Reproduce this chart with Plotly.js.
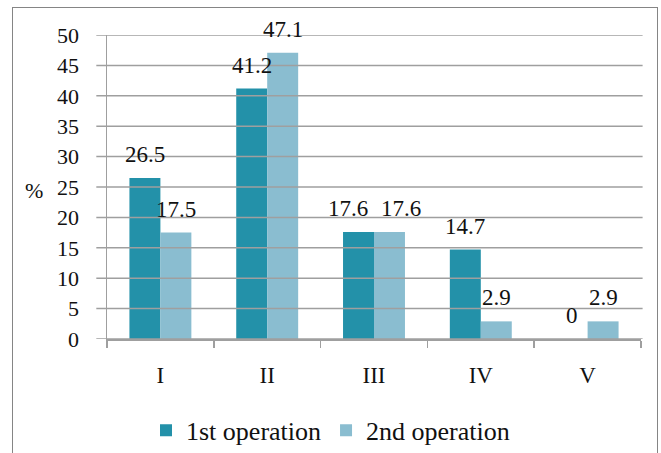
<!DOCTYPE html>
<html>
<head>
<meta charset="utf-8">
<script src="https://cdn.plot.ly/plotly-3.0.1.min.js"></script>
<style>
html,body{margin:0;padding:0;background:#fff;}
#wrap{position:relative;width:661px;height:453px;overflow:hidden;}
#chart{width:661px;height:453px;}
#frame{position:absolute;left:12px;top:7px;width:646px;height:470px;border:1.5px solid #858585;pointer-events:none;box-sizing:border-box;}
</style>
</head>
<body>
<div id="wrap"><div id="chart"></div><div id="frame"></div></div>
<script>
var categories = ["I", "II", "III", "IV", "V"];
var firstOperation = [26.5, 41.2, 17.6, 14.7, 0];
var secondOperation = [17.5, 47.1, 17.6, 2.9, 2.9];
var seriesNames = ["1st operation", "2nd operation"];
var yTicks = [0, 5, 10, 15, 20, 25, 30, 35, 40, 45, 50];

var FONT = "'Liberation Serif'";
var darkColor = "#2391a9";
var lightColor = "#8abdd0";
var BAR_HALF = 15.5;   // half of a bar's pixel width, to centre labels over each bar

var traces = [
  {type:"bar", name:seriesNames[0], x:categories, y:firstOperation,
   marker:{color:darkColor}, hoverinfo:"skip"},
  {type:"bar", name:seriesNames[1], x:categories, y:secondOperation,
   marker:{color:lightColor}, hoverinfo:"skip"}
];

function labelAnnotations(values, side){
  return values.map(function(v, i){
    var shift = side * BAR_HALF;
    if (categories[i] === "III") shift = side * 26.5; // the equal pair is spread apart, as in the reference
    return {x:categories[i], y:v, xref:"x", yref:"y", text:String(v), showarrow:false,
            xanchor:"center", yanchor:"bottom", xshift:shift, yshift:9,
            font:{family:FONT, size:23, color:"#111"}};
  });
}

var gridShapes = yTicks.map(function(v){
  return {type:"line", xref:"paper", yref:"y", x0:-0.02, x1:1.003, y0:v, y1:v,
          line:{color:"#9f9f9f", width:1.5}, layer:"above"};
});

var layout = {
  width:661, height:453,
  margin:{l:107, r:20, t:35, b:114, pad:0},
  paper_bgcolor:"#fff", plot_bgcolor:"#fff",
  barmode:"group", bargap:0.42, bargroupgap:0,
  font:{family:FONT, size:22, color:"#111"},
  showlegend:true,
  legend:{orientation:"h", xref:"container", yref:"container", x:0.5, xanchor:"center",
          y:0.05, yanchor:"middle", font:{family:FONT, size:26, color:"#111"},
          itemwidth:30, tracegroupgap:0},
  xaxis:{type:"category", showgrid:false, showline:true, linecolor:"#9f9f9f", linewidth:1.5,
         ticks:"outside", tickson:"boundaries", ticklen:7, tickcolor:"#9f9f9f", tickwidth:1.5,
         tickfont:{family:FONT, size:23, color:"#111"}, ticklabelstandoff:15,
         fixedrange:true},
  yaxis:{range:[0,50], tickvals:yTicks, ticktext:yTicks.map(String), showgrid:false,
         showline:true, linecolor:"#9f9f9f", linewidth:1.5, ticks:"",
         tickfont:{family:FONT, size:22, color:"#111"}, ticklabelstandoff:22,
         zeroline:false, fixedrange:true},
  shapes:gridShapes,
  annotations:[{text:"%", xref:"paper", yref:"paper", x:-0.137, y:0.49,
                xanchor:"center", yanchor:"middle", showarrow:false,
                font:{family:FONT, size:22, color:"#111"}}]
    .concat(labelAnnotations(firstOperation, -1))
    .concat(labelAnnotations(secondOperation, 1))
};

Plotly.newPlot("chart", traces, layout, {displayModeBar:false, staticPlot:true});
</script>
</body>
</html>
